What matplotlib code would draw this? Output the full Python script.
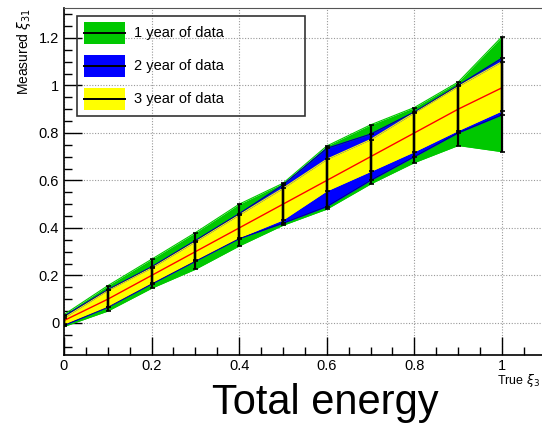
import numpy as np
import matplotlib
matplotlib.use("Agg")
import matplotlib.pyplot as plt
from matplotlib.patches import Rectangle
from matplotlib.lines import Line2D
from matplotlib.ticker import MultipleLocator

plt.rcParams['font.family'] = ['Liberation Sans', 'DejaVu Sans']

# ---------- data ----------
true_xi = [0.0, 0.1, 0.2, 0.3, 0.4, 0.5, 0.6, 0.7, 0.8, 0.9, 1.0]
central = [0.01, 0.10, 0.20, 0.30, 0.40, 0.50, 0.60, 0.70, 0.80, 0.90, 0.99]

# 1 year of data
lo_1y = [-0.015, 0.050, 0.146, 0.226, 0.324, 0.411, 0.479, 0.585, 0.675, 0.747, 0.721]
hi_1y = [0.035, 0.157, 0.268, 0.380, 0.500, 0.588, 0.745, 0.834, 0.907, 1.014, 1.205]
# 2 year of data
lo_2y = [-0.010, 0.066, 0.164, 0.260, 0.355, 0.420, 0.490, 0.600, 0.700, 0.800, 0.876]
hi_2y = [0.028, 0.140, 0.236, 0.347, 0.460, 0.581, 0.735, 0.795, 0.888, 1.000, 1.115]
# 3 year of data
lo_3y = [-0.005, 0.069, 0.168, 0.264, 0.359, 0.434, 0.556, 0.638, 0.721, 0.810, 0.893]
hi_3y = [0.022, 0.137, 0.232, 0.342, 0.455, 0.567, 0.689, 0.772, 0.885, 0.996, 1.100]

labels = ["1 year of data", "2 year of data", "3 year of data"]
colors = ["#00c800", "#0000ff", "#ffff00"]
bands = [(lo_1y, hi_1y), (lo_2y, hi_2y), (lo_3y, hi_3y)]

W, H = 542, 429


def fx(px):
    return px / W


def fy(py):
    return 1 - py / H


# ---------- figure ----------
fig = plt.figure(figsize=(W / 100, H / 100), dpi=100)
ax = fig.add_axes([fx(64), fy(355), 1 - fx(64), 347 / H])

x = np.array(true_xi)
for (lo, hi), col in zip(bands, colors):
    ax.fill_between(x, lo, hi, color=col, lw=0, zorder=2)
    ax.plot(x, lo, color=col, lw=0.8, zorder=2)
    ax.plot(x, hi, color=col, lw=0.8, zorder=2)

# blue band edges are outlined darker
ax.plot(x, lo_2y, color="#000080", lw=0.6, zorder=2)
ax.plot(x, hi_2y, color="#000080", lw=0.6, zorder=2)

ax.plot(x, central, color="red", lw=1.0, zorder=4)

# error bars from each band
c = np.array(central)
for lo, hi in bands:
    ax.errorbar(x, c, yerr=[c - np.array(lo), np.array(hi) - c], fmt="none",
                ecolor="black", elinewidth=1.6, capsize=1.8, capthick=1.2, zorder=5)

ax.set_xlim(0, 1.0915)
ax.set_ylim(-0.135, 1.326)

ax.xaxis.set_minor_locator(MultipleLocator(0.05))
ax.yaxis.set_minor_locator(MultipleLocator(0.05))
ax.set_xticks([0, 0.2, 0.4, 0.6, 0.8, 1.0])
ax.set_xticklabels(["0", "0.2", "0.4", "0.6", "0.8", "1"])
ax.set_yticks([0, 0.2, 0.4, 0.6, 0.8, 1.0, 1.2])
ax.set_yticklabels(["0", "0.2", "0.4", "0.6", "0.8", "1", "1.2"])
ax.tick_params(which="major", direction="in", length=13, width=1, labelsize=10.5,
               top=False, right=False)
ax.tick_params(axis="x", which="major", pad=3)
ax.tick_params(which="minor", direction="in", length=6, width=1, top=False, right=False)
ax.grid(True, which="major", ls=(0, (1, 1.5)), color="#999999", lw=0.8, zorder=0)
ax.set_axisbelow(True)

ax.spines["right"].set_visible(False)
ax.spines["top"].set_color("#555555")
for s in ("left", "bottom"):
    ax.spines[s].set_linewidth(1.2)

fig.text(fx(24), fy(8), "Measured $\\xi_{31}$", rotation=90, ha="center", va="top",
         fontsize=10)
fig.text(fx(497), fy(384), "True $\\xi_{3}$", ha="left", va="baseline", fontsize=9)
fig.text(fx(325), fy(414), "Total energy", ha="center", va="baseline", fontsize=30)

# legend box, drawn by hand in figure pixels
fig.add_artist(Rectangle((fx(77), fy(116)), fx(305) - fx(77), (116 - 16) / H,
                         transform=fig.transFigure, facecolor="none",
                         edgecolor="#333333", lw=1.2, zorder=10))
for i, (lab, col) in enumerate(zip(labels, colors)):
    yc = 33 + 33 * i
    fig.add_artist(Rectangle((fx(84), fy(yc + 11)), fx(125) - fx(84), 22 / H,
                             transform=fig.transFigure, facecolor=col,
                             edgecolor="none", zorder=10))
    fig.add_artist(Line2D([fx(84), fx(125)], [fy(yc), fy(yc)], transform=fig.transFigure,
                          color="black", lw=1.4, zorder=11))
    fig.text(fx(134), fy(yc), lab, ha="left", va="center", fontsize=10.5, zorder=11)

fig.savefig("out.png", dpi=100)
